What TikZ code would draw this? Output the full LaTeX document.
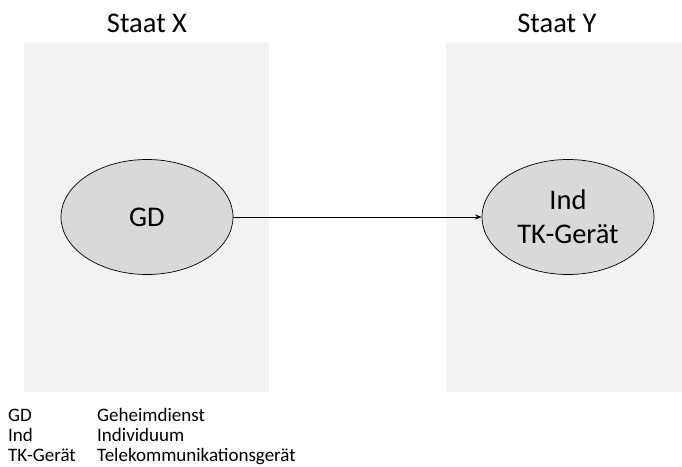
\documentclass[tikz,border=0pt]{standalone}
\usepackage{fontspec}
\setmainfont{Carlito}
\usepackage{tikz}
\usetikzlibrary{arrows.meta,shapes.geometric}
\definecolor{zone}{HTML}{F2F2F2}
\definecolor{blob}{HTML}{D9D9D9}
\definecolor{ink}{HTML}{000000}

\begin{document}
\begin{tikzpicture}[x=1pt,y=-1pt,>=Stealth,
    zonebox/.style={fill=zone,draw=none},
    actor/.style={ellipse,draw=ink,line width=0.7pt,fill=blob,
      minimum width=172pt,minimum height=115pt,inner sep=0pt,align=center,
      font=\fontsize{28.5}{34}\selectfont},
    staat/.style={anchor=base,font=\fontsize{28.5}{34}\selectfont},
    legend/.style={anchor=base west,inner sep=0pt,font=\fontsize{19}{21}\selectfont}]
      \useasboundingbox (0,0) rectangle (682,466);

      % states
      \fill[zonebox] (24,43) rectangle (269,392);
      \fill[zonebox] (446,43) rectangle (682,392);
      \node[staat] (sx) at (147,32) {Staat X};
      \node[staat] (sy) at (557,32) {Staat Y};

      % actors
      \node[actor] (gd) at (147,217) {GD};
      \node[actor] (ind) at (568,217) {Ind\\TK-Gerät};
      \draw[->,line width=0.8pt] (gd) -- (ind);

      % legend
      \node[legend] (k1) at (8,421) {GD};
      \node[legend] (v1) at (97,421) {Geheimdienst};
      \node[legend] (k2) at (8,441) {Ind};
      \node[legend] (v2) at (97,441) {Individuum};
      \node[legend] (k3) at (8,461) {TK-Gerät};
      \node[legend] (v3) at (97,461) {Telekommunikationsgerät};
    \end{tikzpicture}
\end{document}
